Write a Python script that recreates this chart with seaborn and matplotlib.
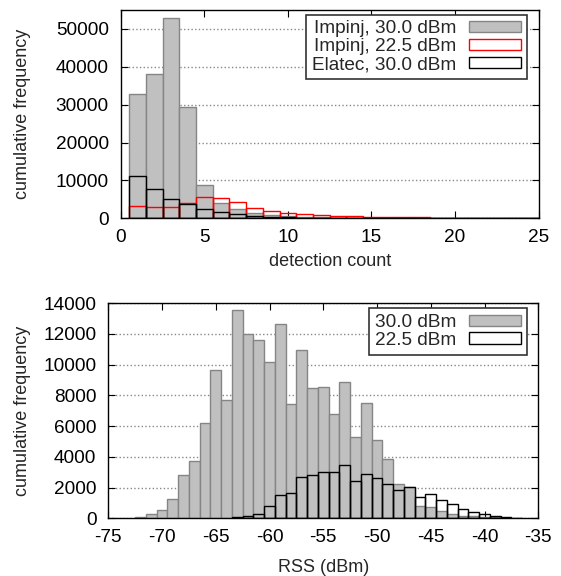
import numpy as np
import matplotlib
matplotlib.use("Agg")
import matplotlib.pyplot as plt
import seaborn as sns

# detection count histogram (bins of width 1, centred on integers)
count_bins = list(range(1, 26))
impinj_30 = [32700, 38150, 52770, 29450, 8700, 3950, 2400, 1400, 800, 520,
             380, 250, 180, 120, 80, 60, 40, 30, 20, 15, 10, 10, 10, 10, 10]
impinj_22 = [3300, 2900, 3100, 4000, 5540, 5480, 4220, 2800, 1850, 1300,
             1050, 790, 560, 500, 420, 340, 300, 260, 60, 50, 40, 40, 80, 80, 80]
elatec_30 = [11160, 7730, 5170, 3720, 2370, 1580, 1050, 690, 420, 300,
             200, 150, 100, 80, 50, 40, 30, 20, 10, 10, 5, 5, 5, 5, 5]

# RSS histogram
rss_bins = list(range(-72, -37))
rss_30 = [80, 250, 520, 1280, 2830, 3700, 6200, 9680, 7730, 13540,
          11970, 11640, 10200, 12640, 7450, 10950, 8490, 8530, 6800, 8880,
          5300, 7480, 5100, 3850, 2230, 2040, 800, 750, 475, 300,
          180, 150, 90, 60, 40]
rss_bins_22 = list(range(-63, -36))
rss_22 = [60, 180, 300, 780, 1490, 1650, 2720, 2830, 3020, 3030,
          3450, 2420, 2880, 2600, 2230, 1850, 2020, 1380, 1570, 1200,
          930, 600, 420, 250, 150, 80, 30]

sns.set_style("ticks")
plt.rcParams['font.family'] = ['Liberation Sans', 'DejaVu Sans']
plt.rcParams['axes.unicode_minus'] = False
fs = 13.7
label_fs = 13
plt.rcParams['font.size'] = fs

gray_fill = '#c0c0c0'
gray_edge = '#858585'

fig = plt.figure(figsize=(5.61, 5.76), dpi=100)
ax1 = fig.add_axes([0.2152, 0.621, 0.745, 0.3616])
ax2 = fig.add_axes([0.193, 0.1002, 0.7665, 0.3733])

# top panel
sns.histplot(x=count_bins, weights=impinj_30, discrete=True, shrink=1,
             color=gray_fill, edgecolor=gray_edge, alpha=1, linewidth=1,
             label='Impinj, 30.0 dBm', ax=ax1)
sns.histplot(x=count_bins, weights=impinj_22, discrete=True, shrink=1,
             fill=False, color='red', linewidth=1,
             label='Impinj, 22.5 dBm', ax=ax1)
sns.histplot(x=count_bins, weights=elatec_30, discrete=True, shrink=1,
             fill=False, color='black', linewidth=1,
             label='Elatec, 30.0 dBm', ax=ax1)
ax1.set_xlim(0, 25)
ax1.set_ylim(0, 55000)
ax1.set_xticks(range(0, 26, 5))
ax1.set_yticks(range(0, 50001, 10000))
ax1.set_xlabel('detection count', fontsize=label_fs)
ax1.set_ylabel('cumulative frequency', fontsize=label_fs)
ax1.xaxis.set_label_coords(0.5, -0.165)
ax1.yaxis.set_label_coords(-0.215, 0.5)

# bottom panel
sns.histplot(x=rss_bins, weights=rss_30, discrete=True, shrink=1,
             color=gray_fill, edgecolor=gray_edge, alpha=1, linewidth=1,
             label='30.0 dBm', ax=ax2)
sns.histplot(x=rss_bins_22, weights=rss_22, discrete=True, shrink=1,
             fill=False, color='black', linewidth=1,
             label='22.5 dBm', ax=ax2)
ax2.set_xlim(-75, -35)
ax2.set_ylim(0, 14000)
ax2.set_xticks(range(-75, -34, 5))
ax2.set_yticks(range(0, 14001, 2000))
ax2.set_xlabel('RSS (dBm)', fontsize=label_fs)
ax2.set_ylabel('cumulative frequency', fontsize=label_fs)
ax2.xaxis.set_label_coords(0.5, -0.19)
ax2.yaxis.set_label_coords(-0.18, 0.5)

for ax, anchor in ((ax1, (0.9713, 0.9774)), (ax2, (0.973, 0.9767))):
    ax.yaxis.grid(True, linestyle=':', color='#888888', linewidth=1)
    ax.set_axisbelow(True)
    ax.tick_params(direction='in', top=True, right=True, length=5,
                   labelsize=fs, colors='black')
    ax.tick_params(axis='y', pad=8.5)
    ax.tick_params(axis='x', pad=7.5)
    for s in ax.spines.values():
        s.set_visible(True)
        s.set_linewidth(1)
        s.set_color('black')
    leg = ax.legend(loc='upper right', bbox_to_anchor=anchor, borderaxespad=0,
                    markerfirst=False, fancybox=False, framealpha=1,
                    edgecolor='#333333', handlelength=2.75, handleheight=0.55,
                    labelspacing=0.05, handletextpad=0.65, borderpad=0.3,
                    fontsize=fs)
    leg.get_frame().set_linewidth(1.2)

fig.savefig('out.png', dpi=100)
